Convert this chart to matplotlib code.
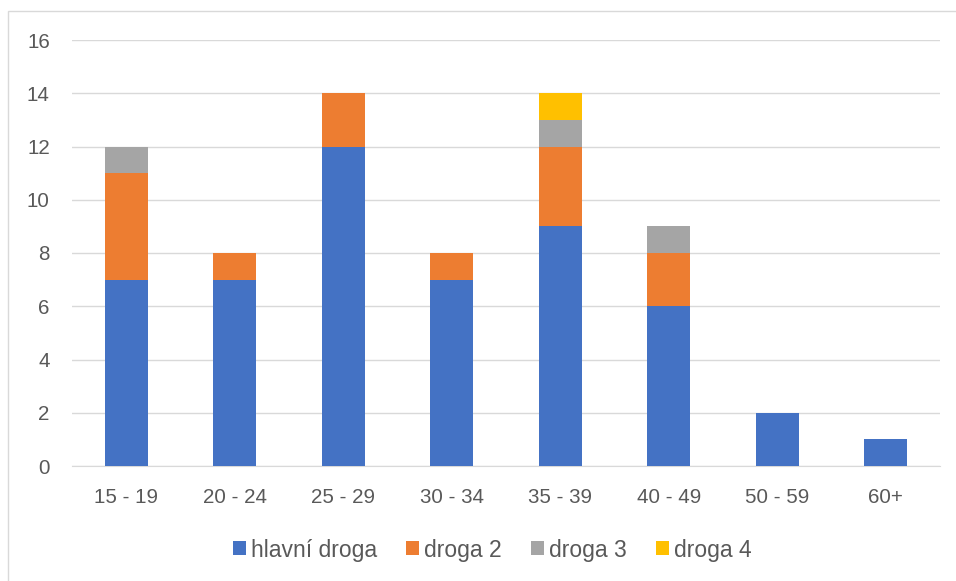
import numpy as np
import matplotlib.pyplot as plt
from matplotlib.patches import Rectangle

plt.rcParams['font.family'] = ['Liberation Sans', 'DejaVu Sans']

# ========== Data ==========
categories = ["15 - 19", "20 - 24", "25 - 29", "30 - 34", "35 - 39", "40 - 49", "50 - 59", "60+"]
hlavni = [7, 7, 12, 7, 9, 6, 2, 1]
droga2 = [4, 1, 2, 1, 3, 2, 0, 0]
droga3 = [1, 0, 0, 0, 1, 1, 0, 0]
droga4 = [0, 0, 0, 0, 1, 0, 0, 0]

series = [
    ("hlavní droga", hlavni, "#4472C4"),
    ("droga 2", droga2, "#ED7D31"),
    ("droga 3", droga3, "#A5A5A5"),
    ("droga 4", droga4, "#FFC000"),
]

W, H = 956, 581
fig = plt.figure(figsize=(W / 100, H / 100), dpi=100)
ax = fig.add_axes([72 / W, 1 - 466 / H, (940 - 72) / W, (466 - 40) / H])

x = np.arange(len(categories))
bottom = np.zeros(len(categories))
for name, vals, col in series:
    vals = np.array(vals, dtype=float)
    ax.bar(x, vals, width=0.4, bottom=bottom, color=col, label=name, zorder=3)
    bottom += vals

ax.set_xlim(-0.5, len(categories) - 0.5)
ax.set_ylim(0, 16)
ax.set_yticks(np.arange(0, 17, 2))
ax.set_xticks(x)
ax.set_xticklabels(categories)
ax.grid(axis="y", color="#D9D9D9", linewidth=1, zorder=0)
for s in ["top", "right", "left"]:
    ax.spines[s].set_visible(False)
ax.spines["bottom"].set_color("#D9D9D9")
ax.tick_params(axis="both", length=0, labelsize=14.8, colors="#595959")
ax.tick_params(axis="x", pad=16)
ax.tick_params(axis="y", pad=16)

leg = fig.legend(loc="center", bbox_to_anchor=(492 / W, 1 - 550 / H), ncol=4, frameon=False,
                 fontsize=16.5, handlelength=0.57, handleheight=0.57, handletextpad=0.22,
                 columnspacing=1.27, labelcolor="#595959")

# chart border
fig.patches.append(Rectangle((8 / W, -0.1), 1.2, 1 - 11 / H + 0.1, transform=fig.transFigure,
                             fill=False, edgecolor="#D9D9D9", linewidth=1))

fig.savefig("out.png", dpi=100)
